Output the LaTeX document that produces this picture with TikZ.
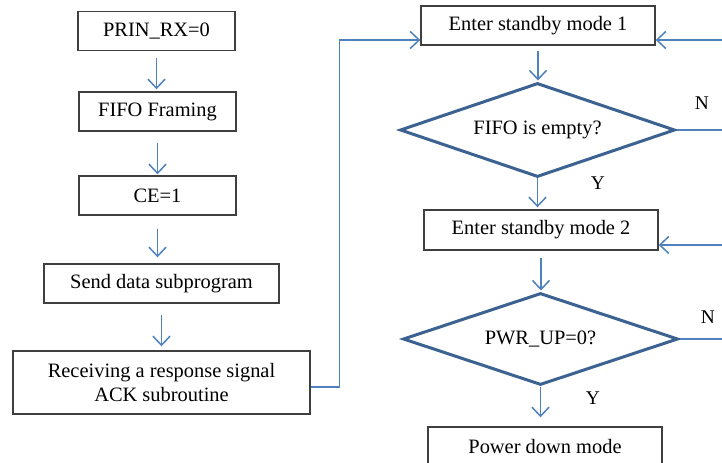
\documentclass[tikz,border=0pt]{standalone}
\usepackage{fontspec}
\setmainfont{Liberation Serif}
\usetikzlibrary{shapes.geometric,arrows.meta}
\definecolor{arrblue}{HTML}{4F81BD}
\definecolor{dblue}{HTML}{3B6290}
\definecolor{boxgray}{HTML}{3F3F3F}
\begin{document}
\begin{tikzpicture}[x=1bp,y=-1bp,
  font=\fontsize{20.5}{24}\selectfont,
  box/.style={draw=boxgray, line width=1.4bp, fill=white, inner sep=0pt, minimum height=39bp, align=center},
  dia/.style={diamond, draw=dblue, line width=3bp, fill=white, inner sep=0pt, aspect=2.9},
  arr/.style={draw=arrblue, line width=1.5bp, -{Straight Barb[length=9bp,width=17bp]}},
  lab/.style={inner sep=0pt, font=\fontsize{19.5}{22}\selectfont}]
\useasboundingbox (0,0) rectangle (722,463);
\clip (0,0) rectangle (722,463);
\fill[white] (0,0) rectangle (722,463);
% left column
\node[box, minimum width=157bp] (b1) at (156.5,31) {PRIN\_RX=0};
\node[box, minimum width=157bp] (b2) at (157.5,111.5) {FIFO Framing};
\node[box, minimum width=157bp] (b3) at (157.5,195.5) {CE=1};
\node[box, minimum width=235bp] (b4) at (161.5,283.5) {Send data subprogram};
\node[box, minimum width=297bp, minimum height=63bp] (b5) at (161.5,382.5) {Receiving a response signal\\ACK subroutine};
% right column
\node[box, minimum width=234bp] (s1) at (538,25.5) {Enter standby mode 1};
\node[dia, minimum width=275bp, minimum height=94bp] (d1) at (537.5,130) {FIFO is empty?};
\node[box, minimum width=234bp, minimum height=40bp] (s2) at (541,230) {Enter standby mode 2};
\node[dia, minimum width=275bp, minimum height=92bp] (d2) at (540.5,339) {PWR\_UP=0?};
\node[box, minimum width=234bp, minimum height=40bp] (p) at (545,447) {Power down mode};
% labels
\node[lab] (n1) at (702,103) {N};
\node[lab] (y1) at (598,183) {Y};
\node[lab] (n2) at (708,317) {N};
\node[lab] (y2) at (593,398) {Y};
% connectors
\draw[arr, shorten <=7bp, shorten >=2bp] (b1.south) -- (b1.south |- b2.north);
\draw[arr, shorten <=11bp, shorten >=1bp] (b2.south) -- (b2.south |- b3.north);
\draw[arr, shorten <=13bp, shorten >=6bp] (b3.south) -- (b3.south |- b4.north);
\draw[arr, shorten <=11bp, shorten >=4bp] (b4.south) -- (b4.south |- b5.north);
\draw[arr] ([yshift=-4.5bp]b5.east) -- ++(29,0) |- ([yshift=-14.5bp]s1.west);
\draw[arr, shorten <=5bp, shorten >=1bp] (s1.south) -- (s1.south |- d1.north);
\draw[arr, shorten >=2bp] (d1.south) -- (d1.south |- s2.north);
\draw[arr, shorten <=7bp, shorten >=1bp] (s2.south) -- (s2.south |- d2.north);
\draw[arr, shorten >=9bp] (d2.south) -- (d2.south |- p.north);
\draw[arr] (d1.east) -- ++(50,0) |- ([yshift=-14.5bp]s1.east);
\draw[arr] (d2.east) -- ++(47,0) |- ([yshift=-15bp]s2.east);
\end{tikzpicture}
\end{document}
